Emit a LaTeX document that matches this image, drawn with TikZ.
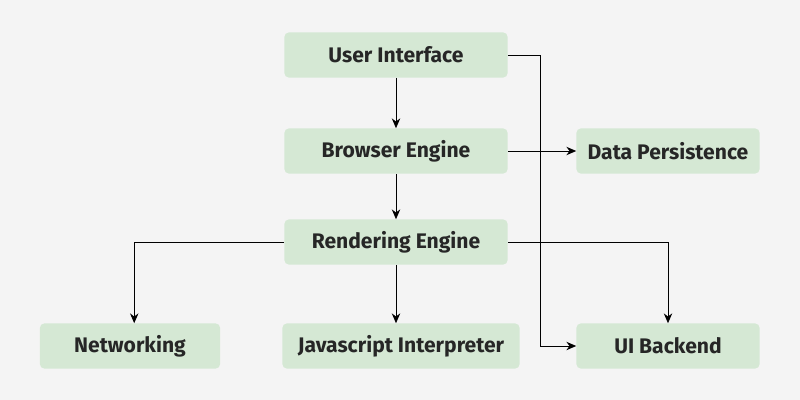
\documentclass[tikz,border=0pt]{standalone}
\usepackage{fontspec}
\setmainfont{Fira Sans}
\usetikzlibrary{arrows.meta}
\definecolor{boxgreen}{HTML}{D5E8D4}
\definecolor{bggray}{HTML}{F4F4F4}
\tikzset{
  block/.style={fill=boxgreen,rounded corners=3pt,minimum height=1.125cm,align=center,font=\fontsize{15pt}{15pt}\selectfont\bfseries,text=black!85},
  link/.style={line width=0.6pt,black,-{Stealth[length=7pt,width=6pt]}}
}
\begin{document}
\begin{tikzpicture}[x=0.025cm,y=-0.025cm]
            % background
            \fill [bggray] (0,0) rectangle (800,400);
            \useasboundingbox (0,0) rectangle (800,400);
            % boxes
            \node [block,minimum width=5.575cm] (ui) at (396,55) {User Interface};
            \node [block,minimum width=5.575cm] (be) at (396,151) {Browser Engine};
            \node [block,minimum width=5.575cm] (re) at (396,242) {Rendering Engine};
            \node [block,minimum width=4.575cm] (dp) at (668,151) {Data Persistence};
            \node [block,minimum width=4.5cm] (net) at (130,346) {Networking};
            \node [block,minimum width=5.925cm] (js) at (401,346) {Javascript Interpreter};
            \node [block,minimum width=4.575cm] (uib) at (668,346) {UI Backend};
            % vertical chain
            \draw [link] (ui) -- (be);
            \draw [link] (be) -- (re);
            \draw [link] (re.south) -- (re.south |- js.north);
            % side links
            \draw [link] (be.east) -- (dp.west);
            \draw [link] (ui.east) -- (540,55) |- (uib.west);
            \draw [link] (re.west) -| ([xshift=3]net.north);
            \draw [link] (re.east) -| (uib.north);
\end{tikzpicture}
\end{document}
